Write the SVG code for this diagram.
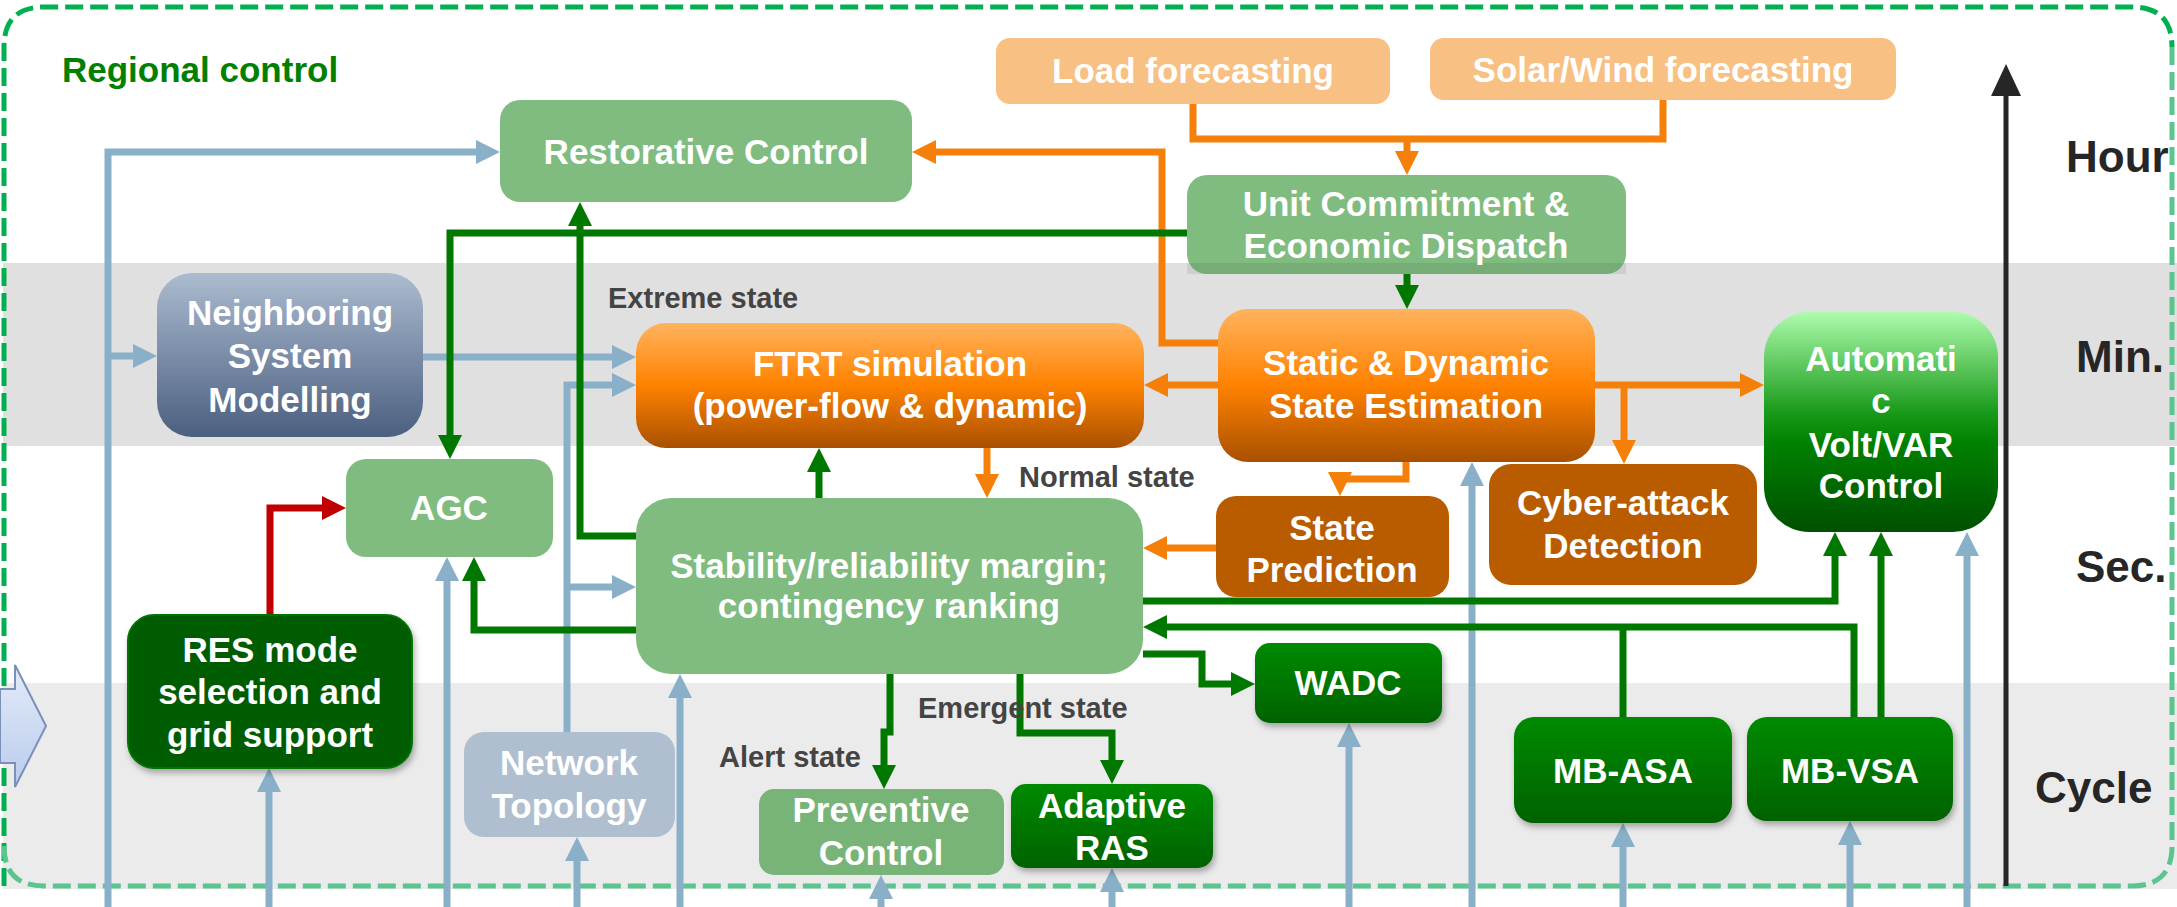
<svg xmlns="http://www.w3.org/2000/svg" width="2177" height="907" viewBox="0 0 2177 907">
<defs>
<style>
.lbl{font-family:"Liberation Sans",Arial,sans-serif;font-weight:bold;font-size:35px;fill:#ffffff;text-anchor:middle}
.st{font-family:"Liberation Sans",Arial,sans-serif;font-weight:bold;font-size:29px;fill:#444444}
.ax{font-family:"Liberation Sans",Arial,sans-serif;font-weight:bold;font-size:44px;fill:#262626}
.b{fill:none;stroke:#8aafc8;stroke-width:7}
.g{fill:none;stroke:#007800;stroke-width:7}
.o{fill:none;stroke:#f58009;stroke-width:7}
.r{fill:none;stroke:#c00000;stroke-width:7}
.lg{fill:#80bc80}
</style>
<marker id="mb" markerUnits="userSpaceOnUse" markerWidth="24" markerHeight="24" viewBox="0 0 24 24" refX="16" refY="12" orient="auto"><path d="M0,0 L24,12 L0,24 z" fill="#8aafc8"/></marker>
<marker id="mg" markerUnits="userSpaceOnUse" markerWidth="24" markerHeight="24" viewBox="0 0 24 24" refX="16" refY="12" orient="auto"><path d="M0,0 L24,12 L0,24 z" fill="#007800"/></marker>
<marker id="mo" markerUnits="userSpaceOnUse" markerWidth="24" markerHeight="24" viewBox="0 0 24 24" refX="16" refY="12" orient="auto"><path d="M0,0 L24,12 L0,24 z" fill="#f58009"/></marker>
<marker id="mr" markerUnits="userSpaceOnUse" markerWidth="24" markerHeight="24" viewBox="0 0 24 24" refX="16" refY="12" orient="auto"><path d="M0,0 L24,12 L0,24 z" fill="#c00000"/></marker>
<marker id="mk" markerUnits="userSpaceOnUse" markerWidth="32" markerHeight="32" viewBox="0 0 32 32" refX="8" refY="16" orient="auto"><path d="M0,1 L32,16 L0,31 z" fill="#262626"/></marker>
<linearGradient id="gOr" x1="0" y1="0" x2="0" y2="1"><stop offset="0" stop-color="#ffb35e"/><stop offset="0.5" stop-color="#ff8200"/><stop offset="1" stop-color="#a85000"/></linearGradient>
<linearGradient id="gNb" x1="0" y1="0" x2="0" y2="1"><stop offset="0" stop-color="#abbbcf"/><stop offset="1" stop-color="#4b5f80"/></linearGradient>
<linearGradient id="gAv" x1="0" y1="0" x2="0" y2="1"><stop offset="0" stop-color="#adfcad"/><stop offset="0.45" stop-color="#1b9b1b"/><stop offset="0.6" stop-color="#008000"/><stop offset="1" stop-color="#005000"/></linearGradient>
<linearGradient id="gDg" x1="0" y1="0" x2="0" y2="1"><stop offset="0" stop-color="#008a00"/><stop offset="1" stop-color="#006200"/></linearGradient>
<linearGradient id="gBa" x1="0" y1="0" x2="0" y2="1"><stop offset="0" stop-color="#e2ebf9"/><stop offset="1" stop-color="#b9cbec"/></linearGradient>
<filter id="sh" x="-10%" y="-10%" width="125%" height="130%"><feDropShadow dx="2" dy="4" stdDeviation="3" flood-color="#000" flood-opacity="0.3"/></filter>
</defs>
<rect x="0" y="0" width="2177" height="907" fill="#ffffff"/>
<g id="bands">
<rect x="3" y="263" width="2174" height="183" fill="#e0e0e0"/>
<rect x="3" y="683" width="2174" height="206" fill="#ebebeb"/>
</g>
<g id="region-border">
<path d="M4,886 V47 Q4,7 44,7 H2132 Q2172,7 2172,47" fill="none" stroke="#00b050" stroke-width="5" stroke-dasharray="18 7"/>
<path d="M2172,47 V846 Q2172,886 2132,886 H44 Q4,886 4,846" fill="none" stroke="#5cc48e" stroke-width="5" stroke-dasharray="18 7"/>
<text x="62" y="82" style="font-family:'Liberation Sans',Arial,sans-serif;font-weight:bold;font-size:35px;fill:#008000">Regional control</text>
</g>
<g id="input-arrow"><path d="M0,689 H15 V665 L46,726 L15,787 V763 H0 z" fill="url(#gBa)" stroke="#7a90b8" stroke-width="2"/></g>
<g id="time-axis">
<path d="M2006,886 V88" fill="none" stroke="#262626" stroke-width="5" marker-end="url(#mk)"/>
<text class="ax" x="2066" y="172">Hour</text>
<text class="ax" x="2076" y="372">Min.</text>
<text class="ax" x="2076" y="582">Sec.</text>
<text class="ax" x="2035" y="803">Cycle</text>
</g>
<g id="connectors">
<path class="b" d="M108,907 V152 H492" marker-end="url(#mb)"/>
<path class="b" d="M108,356 H149" marker-end="url(#mb)"/>
<path class="b" d="M423,357 H628" marker-end="url(#mb)"/>
<path class="b" d="M567,732 V385 H628" marker-end="url(#mb)"/>
<path class="b" d="M567,587 H628" marker-end="url(#mb)"/>
<path class="b" d="M447,907 V565" marker-end="url(#mb)"/>
<path class="b" d="M269,907 V776" marker-end="url(#mb)"/>
<path class="b" d="M577,907 V845" marker-end="url(#mb)"/>
<path class="b" d="M680,907 V682" marker-end="url(#mb)"/>
<path class="b" d="M881,907 V883" marker-end="url(#mb)"/>
<path class="b" d="M1112,907 V876" marker-end="url(#mb)"/>
<path class="b" d="M1349,907 V731" marker-end="url(#mb)"/>
<path class="b" d="M1472,907 V470" marker-end="url(#mb)"/>
<path class="b" d="M1623,907 V831" marker-end="url(#mb)"/>
<path class="b" d="M1850,907 V829" marker-end="url(#mb)"/>
<path class="b" d="M1967,907 V540" marker-end="url(#mb)"/>
<path class="o" d="M1193,104 V139 H1663 V100"/>
<path class="o" d="M1407,139 V167" marker-end="url(#mo)"/>
<path class="o" d="M1218,343 H1162 V152 H920" marker-end="url(#mo)"/>
<path class="o" d="M1218,385 H1152" marker-end="url(#mo)"/>
<path class="o" d="M987,448 V490" marker-end="url(#mo)"/>
<path class="o" d="M1406,462 V479 H1340 V488" marker-end="url(#mo)"/>
<path class="o" d="M1216,548 H1151" marker-end="url(#mo)"/>
<path class="o" d="M1595,385 H1756" marker-end="url(#mo)"/>
<path class="o" d="M1624,385 V456" marker-end="url(#mo)"/>
<path class="g" d="M1187,233 H450 V451" marker-end="url(#mg)"/>
<path class="g" d="M636,536 H580 V210" marker-end="url(#mg)"/>
<path class="g" d="M1407,274 V301" marker-end="url(#mg)"/>
<path class="g" d="M819,498 V456" marker-end="url(#mg)"/>
<path class="g" d="M636,630 H474 V565" marker-end="url(#mg)"/>
<path class="g" d="M1143,601 H1835 V540" marker-end="url(#mg)"/>
<path class="g" d="M1623,717 V627"/>
<path class="g" d="M1854,717 V627 H1151" marker-end="url(#mg)"/>
<path class="g" d="M1881,717 V540" marker-end="url(#mg)"/>
<path class="g" d="M1143,654 H1202 V684 H1247" marker-end="url(#mg)"/>
<path class="g" d="M890,674 V732 H884 V781" marker-end="url(#mg)"/>
<path class="g" d="M1020,674 V733 H1112 V776" marker-end="url(#mg)"/>
<path class="r" d="M270,615 V508 H338" marker-end="url(#mr)"/>
</g>
<g id="state-labels">
<text class="st" x="608" y="308">Extreme state</text>
<text class="st" x="1019" y="487">Normal state</text>
<text class="st" x="918" y="718">Emergent state</text>
<text class="st" x="719" y="767">Alert state</text>
</g>
<g id="restorative"><rect class="lg" x="500" y="100" width="412" height="102" rx="20"/><text class="lbl" x="706" y="164">Restorative Control</text></g>
<g id="load"><rect x="996" y="38" width="394" height="66" rx="14" fill="#f9c083"/><text class="lbl" x="1193" y="83">Load forecasting</text></g>
<g id="solar"><rect x="1430" y="38" width="466" height="62" rx="14" fill="#f9c083"/><text class="lbl" x="1663" y="82">Solar/Wind forecasting</text></g>
<g id="ucd"><rect class="lg" x="1187" y="175" width="439" height="99" rx="20"/><rect x="1187" y="263" width="439" height="11" fill="#000" opacity="0.08"/><text class="lbl" x="1406" y="216">Unit Commitment &amp;</text><text class="lbl" x="1406" y="258">Economic Dispatch</text></g>
<g id="neighboring"><rect x="157" y="273" width="266" height="164" rx="35" fill="url(#gNb)"/><text class="lbl" x="290" y="325">Neighboring</text><text class="lbl" x="290" y="368">System</text><text class="lbl" x="290" y="412">Modelling</text></g>
<g id="ftrt"><rect x="636" y="323" width="508" height="125" rx="30" fill="url(#gOr)"/><text class="lbl" x="890" y="376">FTRT simulation</text><text class="lbl" x="890" y="418">(power-flow &amp; dynamic)</text></g>
<g id="sdse"><rect x="1218" y="309" width="377" height="153" rx="30" fill="url(#gOr)"/><text class="lbl" x="1406" y="375">Static &amp; Dynamic</text><text class="lbl" x="1406" y="418">State Estimation</text></g>
<g id="avvc"><rect x="1764" y="312" width="234" height="220" rx="45" fill="url(#gAv)"/><text class="lbl" x="1881" y="371">Automati</text><text class="lbl" x="1881" y="413">c</text><text class="lbl" x="1881" y="457">Volt/VAR</text><text class="lbl" x="1881" y="498">Control</text></g>
<g id="agc"><rect class="lg" x="346" y="459" width="207" height="98" rx="20"/><text class="lbl" x="449" y="520">AGC</text></g>
<g id="stability"><rect class="lg" x="636" y="498" width="507" height="176" rx="35"/><text class="lbl" x="889" y="578">Stability/reliability margin;</text><text class="lbl" x="889" y="618">contingency ranking</text></g>
<g id="prediction"><rect x="1216" y="496" width="233" height="101" rx="20" fill="#b95c00"/><text class="lbl" x="1332" y="540">State</text><text class="lbl" x="1332" y="582">Prediction</text></g>
<g id="cyber"><rect x="1489" y="464" width="268" height="121" rx="22" fill="#b95c00"/><text class="lbl" x="1623" y="515">Cyber-attack</text><text class="lbl" x="1623" y="558">Detection</text></g>
<g id="res"><rect x="128" y="615" width="284" height="153" rx="26" fill="#005c00" stroke="#007400" stroke-width="2" filter="url(#sh)"/><text class="lbl" x="270" y="662">RES mode</text><text class="lbl" x="270" y="704">selection and</text><text class="lbl" x="270" y="747">grid support</text></g>
<g id="topology"><rect x="464" y="732" width="211" height="105" rx="20" fill="#b0bfd0"/><text class="lbl" x="569" y="775">Network</text><text class="lbl" x="569" y="818">Topology</text></g>
<g id="preventive"><rect x="759" y="789" width="245" height="86" rx="15" fill="#78b478"/><text class="lbl" x="881" y="822">Preventive</text><text class="lbl" x="881" y="865">Control</text></g>
<g id="ras"><rect x="1011" y="784" width="202" height="84" rx="15" fill="url(#gDg)" filter="url(#sh)"/><text class="lbl" x="1112" y="818">Adaptive</text><text class="lbl" x="1112" y="860">RAS</text></g>
<g id="wadc"><rect x="1255" y="643" width="187" height="80" rx="15" fill="url(#gDg)" filter="url(#sh)"/><text class="lbl" x="1348" y="695">WADC</text></g>
<g id="mbasa"><rect x="1514" y="717" width="218" height="106" rx="20" fill="url(#gDg)" filter="url(#sh)"/><text class="lbl" x="1623" y="783">MB-ASA</text></g>
<g id="mbvsa"><rect x="1747" y="717" width="206" height="104" rx="20" fill="url(#gDg)" filter="url(#sh)"/><text class="lbl" x="1850" y="783">MB-VSA</text></g>
</svg>
